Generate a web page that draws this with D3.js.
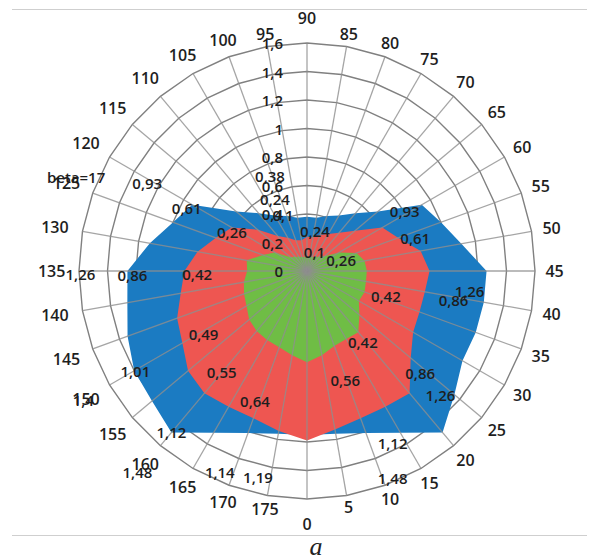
<!DOCTYPE html>
<html>
<head>
<meta charset="utf-8">
<script src="https://cdn.jsdelivr.net/npm/d3@7"></script>
<style>
  html, body { margin: 0; padding: 0; background: #fff; }
  svg { display: block; }
</style>
</head>
<body>
<svg id="chart" width="612" height="560"></svg>
<script>
// Spoke categories, clockwise from the top
const categories = [90, 85, 80, 75, 70, 65, 60, 55, 50, 45, 40, 35, 30, 25, 20, 15, 10, 5, 0,
                    175, 170, 165, 160, 155, 150, 145, 140, 135, 130, 125, 120, 115, 110, 105, 100, 95];

// Outer (blue) series
const outerValues = [0.38, 0.38, 0.41, 0.45, 0.53, 0.65, 0.93, 1.0, 1.1, 1.26, 1.26, 1.26, 1.26, 1.35, 1.48, 1.31, 1.21, 1.16, 1.15,
                     1.16, 1.21, 1.31, 1.48, 1.42, 1.4, 1.34, 1.28, 1.26, 1.12, 1.0, 0.93, 0.65, 0.53, 0.45, 0.41, 0.38];

// Middle (red) series
const middleValues = [0.24, 0.24, 0.27, 0.3, 0.35, 0.44, 0.61, 0.68, 0.81, 0.86, 0.84, 0.84, 0.86, 0.95, 1.12, 1.1, 1.1, 1.13, 1.19,
                      1.14, 1.1, 1.1, 1.12, 1.09, 1.01, 0.97, 0.9, 0.86, 0.78, 0.68, 0.61, 0.45, 0.32, 0.27, 0.23, 0.22];

// Inner (green) series
const innerValues = [0.1, 0.1, 0.105, 0.115, 0.13, 0.16, 0.26, 0.37, 0.41, 0.42, 0.42, 0.43, 0.42, 0.48, 0.56, 0.55, 0.56, 0.6, 0.64,
                     0.6, 0.57, 0.56, 0.55, 0.53, 0.49, 0.47, 0.45, 0.42, 0.43, 0.33, 0.26, 0.15, 0.13, 0.115, 0.105, 0.1];

// Radial axis ticks
const radialTicks = [0, 0.2, 0.4, 0.6, 0.8, 1, 1.2, 1.4, 1.6];

const seriesName = "beta=17";
const caption = "a";

// ---- layout & styles ----
const cx = 307, cy = 271, R = 228;
const FONT = "'Open Sans', 'Liberation Sans', sans-serif";

const seriesList = [
  { key: "outer",  values: outerValues,  fill: "#1b7bc2" },
  { key: "middle", values: middleValues, fill: "#ee5651" },
  { key: "inner",  values: innerValues,  fill: "#6fbd45" }
];
const byKey = Object.fromEntries(seriesList.map(s => [s.key, s]));

// where each data label sits relative to its point
const labelPlacement = [
  { series: "outer", cat: 90,  dx: -37, dy: -41 },
  { series: "outer", cat: 120, dx: -45, dy: -22 },
  { series: "outer", cat: 60,  dx: -17, dy: 6 },
  { series: "outer", cat: 135, dx: -47, dy: 3 },
  { series: "outer", cat: 45,  dx: -17, dy: 20 },
  { series: "outer", cat: 30,  dx: -22, dy: 34 },
  { series: "outer", cat: 20,  dx: -50, dy: 45 },
  { series: "outer", cat: 160, dx: -34, dy: 39 },
  { series: "outer", cat: 150, dx: -51, dy: 29 },
  { series: "middle", cat: 90,  dx: -32, dy: -38 },
  { series: "middle", cat: 85,  dx: 2,   dy: -6 },
  { series: "middle", cat: 60,  dx: 33,  dy: 10 },
  { series: "middle", cat: 120, dx: -45, dy: -20 },
  { series: "middle", cat: 135, dx: -52, dy: 4 },
  { series: "middle", cat: 45,  dx: 24,  dy: 29 },
  { series: "middle", cat: 30,  dx: 7,   dy: 41 },
  { series: "middle", cat: 150, dx: -47, dy: 28 },
  { series: "middle", cat: 20,  dx: -17, dy: 50 },
  { series: "middle", cat: 160, dx: -33, dy: 39 },
  { series: "middle", cat: 175, dx: -59, dy: 41 },
  { series: "middle", cat: 0,   dx: -49, dy: 36 },
  { series: "inner", cat: 90,  dx: -24, dy: -42 },
  { series: "inner", cat: 85,  dx: 5,   dy: -5 },
  { series: "inner", cat: 60,  dx: 2,   dy: 8 },
  { series: "inner", cat: 120, dx: -43, dy: -20 },
  { series: "inner", cat: 135, dx: -50, dy: 3 },
  { series: "inner", cat: 45,  dx: 19,  dy: 25 },
  { series: "inner", cat: 30,  dx: 4,   dy: 41 },
  { series: "inner", cat: 20,  dx: -13, dy: 48 },
  { series: "inner", cat: 150, dx: -43, dy: 28 },
  { series: "inner", cat: 160, dx: -35, dy: 41 },
  { series: "inner", cat: 0,   dx: -52, dy: 39 }
];
const namePlacement = { series: "outer", cat: 125, dx: -97, dy: -45 };

const fmt = v => String(v).replace(".", ",");

// ---- scales ----
const rScale = d3.scaleLinear().domain([0, 1.6]).range([0, R]);
const aScale = d3.scaleBand().domain(categories).range([0, 2 * Math.PI]);

const svg = d3.select("#chart");
const g = svg.append("g").attr("transform", `translate(${cx},${cy})`);

const polar = (cat, v) => {
  const a = aScale(cat), r = rScale(v);
  return [r * Math.sin(a), -r * Math.cos(a)];
};

// frame rules and caption
svg.append("line").attr("x1", 12).attr("x2", 587).attr("y1", 9.5).attr("y2", 9.5)
  .attr("stroke", "#cfcfcf").attr("stroke-width", 1);
svg.append("line").attr("x1", 12).attr("x2", 587).attr("y1", 535.5).attr("y2", 535.5)
  .attr("stroke", "#cfcfcf").attr("stroke-width", 1);
svg.append("text").attr("x", 316).attr("y", 555).attr("text-anchor", "middle")
  .attr("font-family", "'Liberation Serif', 'DejaVu Serif', serif").attr("font-style", "italic")
  .attr("font-size", 26).attr("fill", "#222").text(caption);

// gridline rings
const ring = t => d3.lineRadial()
  .angle(c => aScale(c))
  .radius(() => rScale(t))
  .curve(d3.curveLinearClosed)(categories);

g.append("g").selectAll("path").data(radialTicks.filter(t => t > 0)).join("path")
  .attr("d", d => ring(d))
  .attr("fill", "none").attr("stroke", "#808080").attr("stroke-width", 1.4);

// category labels
const catG = g.append("g").attr("font-family", FONT).attr("font-size", 16)
  .attr("font-weight", 600).attr("fill", "#1e1e1e");
catG.selectAll("text").data(categories).join("text")
  .attr("text-anchor", "middle").attr("dominant-baseline", "central")
  .text(d => d)
  .each(function (d) {
    const a = aScale(d);
    const s = Math.sin(a), c = Math.cos(a);
    const w = this.getComputedTextLength();
    const r = 232 + 0.85 * Math.abs(s) * w + 6 * Math.abs(c) + (Math.abs(s) < 1e-6 ? 15 : 0);
    d3.select(this).attr("x", r * s).attr("y", -r * c);
  });

// filled series
const area = d3.lineRadial()
  .angle((d, i) => aScale(categories[i]))
  .radius(d => rScale(d))
  .curve(d3.curveLinearClosed);

g.append("g").selectAll("path").data(seriesList).join("path")
  .attr("d", s => area(s.values))
  .attr("fill", s => s.fill)
  .attr("stroke", "none");

// spokes over the fills
g.append("g").selectAll("line").data(categories).join("line")
  .attr("x1", 0).attr("y1", 0)
  .attr("x2", d => rScale(1.6) * Math.sin(aScale(d)))
  .attr("y2", d => -rScale(1.6) * Math.cos(aScale(d)))
  .attr("stroke", "#8e8e8e").attr("stroke-opacity", 0.8).attr("stroke-width", 1.3);

// radial tick labels
g.append("g").attr("font-family", FONT).attr("font-size", 15).attr("font-weight", 600).attr("fill", "#1e1e1e")
  .selectAll("text").data(radialTicks).join("text")
  .attr("x", -24).attr("y", d => -rScale(d))
  .attr("text-anchor", "end").attr("dominant-baseline", "central")
  .text(d => fmt(d));

// data labels
const lblG = g.append("g").attr("font-family", FONT).attr("font-size", 15)
  .attr("font-weight", 600).attr("fill", "#1e1e1e");
labelPlacement.forEach(p => {
  const s = byKey[p.series];
  const v = s.values[categories.indexOf(p.cat)];
  const [x, y] = polar(p.cat, v);
  lblG.append("text")
    .attr("x", x + p.dx).attr("y", y + p.dy)
    .attr("text-anchor", "middle").attr("dominant-baseline", "central")
    .text(fmt(v));
});
{
  const s = byKey[namePlacement.series];
  const v = s.values[categories.indexOf(namePlacement.cat)];
  const [x, y] = polar(namePlacement.cat, v);
  lblG.append("text")
    .attr("x", x + namePlacement.dx).attr("y", y + namePlacement.dy)
    .attr("text-anchor", "middle").attr("dominant-baseline", "central")
    .text(seriesName);
}
</script>
</body>
</html>
